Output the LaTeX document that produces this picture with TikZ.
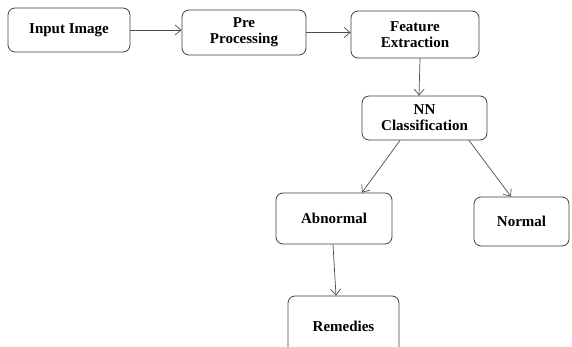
\documentclass[tikz,border=0pt]{standalone}
\usepackage{fontspec}
\setmainfont{Liberation Serif}
\usetikzlibrary{arrows.meta}
\tikzset{
	blk/.style={draw=black!75, line width=0.8pt, rounded corners=7pt, align=center,
		font=\fontsize{15}{16}\selectfont\bfseries, inner sep=2pt},
	conn/.style={draw=black!70, line width=0.7pt, -{Straight Barb[length=6pt,width=10pt]}}
}
\begin{document}
\begin{tikzpicture}[x=1pt, y=-1pt, line join=round, line cap=round]
	\useasboundingbox[fill=white] (0,0) rectangle (572,347);
	% boxes
	\node[blk, minimum width=122pt, minimum height=44pt] (inp) at (69,30) {Input Image};
	\node[blk, minimum width=124pt, minimum height=45pt] (pre) at (244,32.5) {Pre\\Processing};
	\node[blk, minimum width=128pt, minimum height=47pt] (feat) at (415,34.5) {Feature\\Extraction};
	\node[blk, minimum width=125pt, minimum height=44pt] (nn) at (424.5,118) {NN\\Classification};
	\node[blk, minimum width=116pt, minimum height=51pt] (abn) at (334,218.5) {Abnormal};
	\node[blk, minimum width=95pt, minimum height=49pt] (norm) at (521.5,221.5) {Normal};
	\node[blk, minimum width=111pt, minimum height=60pt] (rem) at (343.5,326) {Remedies};

	% arrows
	\draw[conn] (inp.east) -- (inp.east -| pre.west);
	\draw[conn] (pre.east) -- (pre.east -| feat.west);
	\draw[conn] ([xshift=5pt]feat.south) -- ([xshift=-5.5pt]nn.north);
	\draw[conn] ([xshift=-24.5pt]nn.south) -- ([xshift=28pt]abn.north);
	\draw[conn] ([xshift=44.5pt]nn.south) -- ([xshift=-10.5pt]norm.north);
	\draw[conn] ([xshift=-1pt]abn.south) -- ([xshift=-7.5pt]rem.north);
\end{tikzpicture}
\end{document}
